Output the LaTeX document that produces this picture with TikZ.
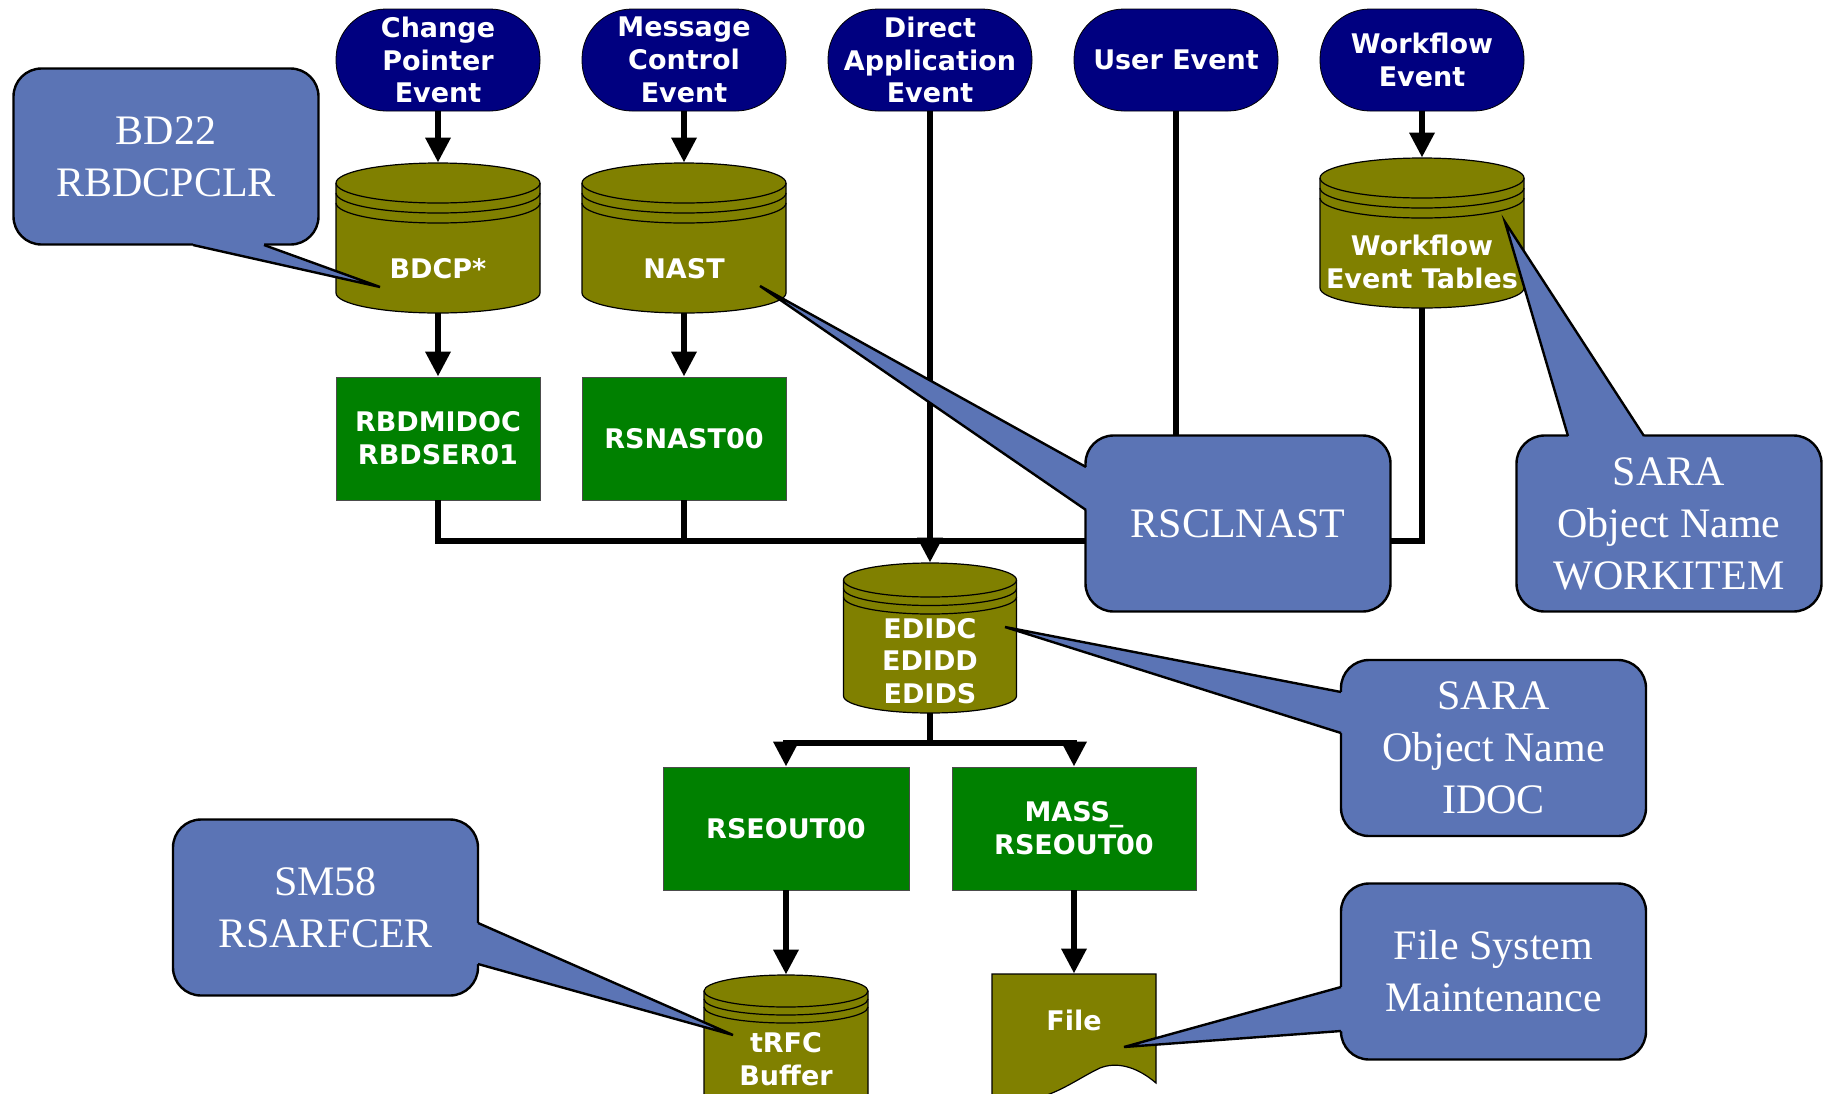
\documentclass[tikz,border=0pt]{standalone}
\usepackage{fontspec}
\setmainfont{Liberation Serif}
\newfontfamily\verd{DejaVu Sans}
\usetikzlibrary{arrows.meta}
\definecolor{evnavy}{RGB}{0,0,128}
\definecolor{dbolive}{RGB}{128,128,0}
\definecolor{pgreen}{RGB}{0,128,0}
\definecolor{noteblue}{RGB}{91,116,181}
\newcommand{\boxfont}{\verd\bfseries\fontsize{13.5pt}{16.4pt}\selectfont}
\tikzstyle{arrow} = [line width=3.3pt,-{Triangle[length=12.5pt,width=12pt]}]
\tikzstyle{wire}  = [line width=3.3pt]
\tikzstyle{event} = [draw=black, thin, fill=evnavy, rounded corners=25pt, minimum width=102pt, minimum height=51pt, inner sep=0pt, text=white, font=\boxfont, align=center]
\tikzstyle{prog}  = [draw=black!70, thin, fill=pgreen, minimum height=61.5pt, inner sep=0pt, text=white, font=\boxfont, align=center]
\tikzstyle{drum}  = [inner sep=0pt]
\tikzstyle{dbtext} = [text=white, font=\boxfont, align=center]
\tikzstyle{dbline} = [draw=black, line width=0.6pt]
\tikzstyle{note} = [draw=black, line width=1.2pt, fill=noteblue, rounded corners=14pt, minimum width=152.5pt, minimum height=88pt, text=white, font=\fontsize{21pt}{26pt}\selectfont, align=center]
\tikzstyle{noteline} = [draw=black, line width=1.2pt]

\newcommand{\dbdrum}[7]{%
  \pgfmathsetmacro{\drx}{#4/4}%
  \pgfmathsetmacro{\dry}{#5/2}%
  \filldraw[dbline, fill=dbolive] (#2-#4/2,#3+#5) -- (#2-#4/2,#3+150-#5)
    arc[start angle=180, end angle=360, x radius=\drx pt, y radius=\dry pt]
    -- (#2+#4/2,#3+#5)
    arc[start angle=0, end angle=180, x radius=\drx pt, y radius=\dry pt] -- cycle;
  \draw[dbline] (#2-#4/2,#3+#5) arc[start angle=180, end angle=360, x radius=\drx pt, y radius=\dry pt];
  \draw[dbline] (#2-#4/2,#3+1.5*#5) arc[start angle=180, end angle=360, x radius=\drx pt, y radius=\dry pt];
  \draw[dbline] (#2-#4/2,#3+2*#5) arc[start angle=180, end angle=360, x radius=\drx pt, y radius=\dry pt];
  \node (#1) [drum, minimum width=#4*0.5pt, minimum height=75pt] at (#2,#3+75) {};
  \node (#1-txt) [dbtext] at (#2,#3+#6) {#7};
}
\newcommand{\pointer}[8]{%
  \fill[noteblue] ({#1+#7},{#2+#8}) -- (#1,#2) -- (#3,#4) -- (#5,#6) -- ({#5+#7},{#6+#8}) -- cycle;
  \draw[noteline] (#1,#2) -- (#3,#4) -- (#5,#6);
}

\begin{document}
\begin{tikzpicture}[x=0.5pt,y=-0.5pt]
    \useasboundingbox (0,0) rectangle (1832,1093);

    \node (cpe) [event] at (438,60)                      {Change\\Pointer\\Event};
    \node (mce) [event, node distance=123pt, right of=cpe] {Message\\Control\\Event};
    \node (dae) [event, node distance=123pt, right of=mce] {Direct\\Application\\Event};
    \node (ue)  [event, node distance=123pt, right of=dae] {User Event};
    \node (we)  [event, node distance=123pt, right of=ue]  {Workflow\\Event};

    \dbdrum{bdcp}{438}{163}{204}{20}{106}{BDCP*}
    \dbdrum{nast}{684}{163}{204}{20}{106}{NAST}
    \dbdrum{wet}{1422}{158}{204}{20}{104}{Workflow\\Event Tables}
    \dbdrum{edi}{930}{563}{173}{17}{98}{EDIDC\\EDIDD\\EDIDS}
    \dbdrum{trfc}{786}{975}{164}{16}{84}{tRFC\\Buffer}

    \node (rbd)  [prog, minimum width=102pt] at (438,438.5)               {RBDMIDOC\\RBDSER01};
    \node (rsn)  [prog, minimum width=102pt, node distance=123pt, right of=rbd] {RSNAST00};
    \node (rse)  [prog, minimum width=123pt] at (786,828.5)               {RSEOUT00};
    \node (mass) [prog, minimum width=122pt] at (1074,828.5)              {MASS\_\\RSEOUT00};

    \filldraw[dbline, fill=dbolive] (992,974) -- (1156,974) -- (1156,1083)
        .. controls (1135,1065) and (1115,1062) .. (1100,1068)
        .. controls (1070,1082) and (1040,1110) .. (992,1098) -- cycle;
    \node (file) [drum, minimum width=82pt, minimum height=60pt] at (1074,1034) {};
    \node (file-txt) [dbtext] at (1074,1020) {File};

    \coordinate (bus) at (930,541);
    \coordinate (split) at (930,743);
    \draw [arrow] (cpe.south) -- (bdcp.north);
    \draw [arrow] (mce.south) -- (nast.north);
    \draw [arrow] (we.south) -- (wet.north);
    \draw [arrow] (bdcp.south) -- (rbd.north);
    \draw [arrow] (nast.south) -- (rsn.north);
    \draw [wire] (rbd.south) |- (bus) -| (wet.south);
    \draw [wire] (rsn.south) |- (bus);
    \draw [wire] (ue.south) |- (bus);
    \draw [arrow] (dae.south) -- (edi.north);
    \draw [wire] (edi.south) -- (split);
    \draw [arrow] (split) -| (rse.north);
    \draw [arrow] (split) -| (mass.north);
    \draw [arrow] (rse.south) -- (trfc.north);
    \draw [arrow] (mass.south) -- (file.north);

    \node (bd22) [note] at (166,156.5) {BD22\\RBDCPCLR};
    \pointer{193}{245}{380}{287}{264}{245}{0}{-5}
    \node (rscl) [note] at (1238,523.5) {RSCLNAST};
    \pointer{1086}{467}{760}{286}{1086}{510}{5}{0}
    \node (wkit) [note] at (1669,523.5) {SARA\\Object Name\\WORKITEM};
    \pointer{1568}{436}{1505}{222}{1644}{436}{0}{5}
    \node (idoc) [note] at (1493.5,748) {SARA\\Object Name\\IDOC};
    \pointer{1341}{692}{1005}{627}{1341}{733}{5}{0}
    \node (sm58) [note] at (325.5,907.5) {SM58\\RSARFCER};
    \pointer{478}{923}{733}{1035}{478}{964}{-5}{0}
    \node (fsm) [note] at (1493.5,971.5) {File System\\Maintenance};
    \pointer{1341}{987}{1124}{1047}{1341}{1031}{5}{0}
\end{tikzpicture}
\end{document}
